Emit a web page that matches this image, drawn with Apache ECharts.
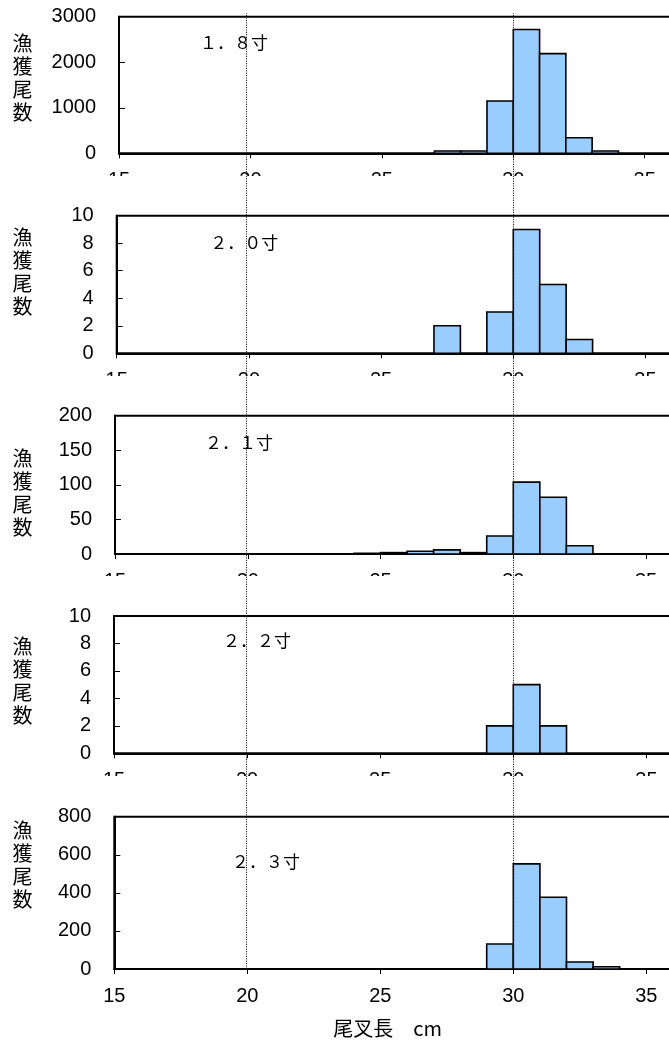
<!DOCTYPE html>
<html>
<head>
<meta charset="utf-8">
<script src="https://cdn.jsdelivr.net/npm/echarts@6/dist/echarts.min.js"></script>
<style>
  html, body { margin: 0; padding: 0; background: #fff; overflow: hidden; width: 669px; height: 1043px; }
  .panel { position: absolute; left: 0; width: 680px; overflow: hidden; }
  #overlay { position: absolute; left: 0; top: 0; width: 680px; height: 1043px; pointer-events: none; }
</style>
</head>
<body>
<div id="p0" class="panel"></div>
<div id="p1" class="panel"></div>
<div id="p2" class="panel"></div>
<div id="p3" class="panel"></div>
<div id="p4" class="panel"></div>
<div id="overlay"></div>
<script>
// ---------- data ----------
const binStarts = [24, 25, 26, 27, 28, 29, 30, 31, 32, 33];   // 尾叉長 bin lower edge (cm), bin width 1 cm
const binWidth = 1;
const count18 = [0, 0, 0, 50, 50, 1150, 2720, 2190, 340, 50];   // 1.8寸
const count20 = [0, 0, 0, 2, 0, 3, 9, 5, 1, 0];                  // 2.0寸
const count21 = [1, 2, 4, 6, 2, 26, 104, 82, 12, 0];             // 2.1寸
const count22 = [0, 0, 0, 0, 0, 2, 5, 2, 0, 0];                  // 2.2寸
const count23 = [0, 0, 0, 0, 0, 131, 552, 377, 37, 12];          // 2.3寸
const panelNames = ['１．８寸', '２．０寸', '２．１寸', '２．２寸', '２．３寸'];
const panelCounts = [count18, count20, count21, count22, count23];
const yMaxes = [3000, 10, 200, 10, 800];
const yIntervals = [1000, 2, 50, 2, 200];
const xMin = 15, xMax = 36, xInterval = 5;
const refLines = [19.95, 30];
const yName = '漁\n獲\n尾\n数';
const xName = '尾叉長　cm';

// ---------- layout (pixels) ----------
const W = 680;
const layout = [
  { top: 0,   height: 176, gTop: 16.7, gBottom: 22.7, left: 119,   plotW: 552.0, ny: 78,    tx: 200,   ty: 42.5 },
  { top: 176, height: 200, gTop: 39.7, gBottom: 22.7, left: 116.7, plotW: 555.2, ny: 95.5,  tx: 210.3, ty: 66.5 },
  { top: 376, height: 200, gTop: 39.7, gBottom: 22.0, left: 115,   plotW: 557.6, ny: 117,   tx: 205,   ty: 67 },
  { top: 576, height: 200, gTop: 40,   gBottom: 22.7, left: 114,   plotW: 559.0, ny: 104.7, tx: 223,   ty: 65 },
  { top: 776, height: 267, gTop: 40.7, gBottom: 74,   left: 114.3, plotW: 558.6, ny: 89,    tx: 232,   ty: 86 }
];

const numFont = "Liberation Sans, Arial, sans-serif";
const cjkFont = "Noto Sans CJK JP, sans-serif";

function renderBar(params, api) {
  const x0 = api.value(0);
  const y = api.value(1);
  const p0 = api.coord([x0, 0]);
  const p1 = api.coord([x0 + binWidth, y]);
  return {
    type: 'rect',
    shape: { x: p0[0], y: p1[1], width: p1[0] - p0[0], height: p0[1] - p1[1] },
    style: { fill: '#99CCFF', stroke: '#000', lineWidth: 1.6 }
  };
}

layout.forEach((L, i) => {
  const el = document.getElementById('p' + i);
  el.style.top = L.top + 'px';
  el.style.height = L.height + 'px';
  const chart = echarts.init(el, null, { renderer: 'canvas' });
  const data = [];
  binStarts.forEach((b, k) => { if (panelCounts[i][k] > 0) data.push([b, panelCounts[i][k]]); });
  const isLast = i === layout.length - 1;
  chart.setOption({
    animation: false,
    backgroundColor: 'transparent',
    grid: {
      left: L.left, right: W - L.left - L.plotW, top: L.gTop, bottom: L.gBottom,
      containLabel: false, outerBoundsMode: 'none',
      show: true, borderColor: '#000', borderWidth: 2, backgroundColor: 'transparent'
    },
    xAxis: {
      type: 'value', min: xMin, max: xMax, interval: xInterval,
      axisLine: { show: true, onZero: false, lineStyle: { color: '#000', width: 2 } },
      axisTick: { show: true, inside: false, length: 5, lineStyle: { color: '#000', width: 1 } },
      axisLabel: { margin: 17, color: '#000', fontSize: 20, fontFamily: numFont, showMaxLabel: false,
                   formatter: v => String(v) },
      splitLine: { show: false },
      name: isLast ? xName : '',
      nameLocation: 'middle',
      nameGap: 49,
      nameTextStyle: { fontFamily: cjkFont, fontSize: 20, color: '#000', padding: [0, 12, 0, 0] }
    },
    yAxis: {
      type: 'value', min: 0, max: yMaxes[i], interval: yIntervals[i],
      axisLine: { show: true, lineStyle: { color: '#000', width: 2 } },
      axisTick: { show: true, inside: true, length: 6, lineStyle: { color: '#000', width: 1 } },
      axisLabel: { margin: 23, color: '#000', fontSize: 20, fontFamily: numFont, formatter: v => String(v) },
      splitLine: { show: false }
    },
    graphic: [{
      type: 'text', x: 32.5, y: L.ny, z: 10,
      style: { text: yName, fontFamily: cjkFont, fontSize: 20, lineHeight: 23, fill: '#000',
               align: 'right', verticalAlign: 'middle' }
    }, {
      type: 'text', x: L.tx, y: L.ty, z: 10,
      style: { text: panelNames[i], fontFamily: cjkFont, fontSize: 17, fill: '#000', align: 'left', verticalAlign: 'middle' }
    }],
    series: [{
      type: 'custom',
      renderItem: renderBar,
      encode: { x: 0, y: 1 },
      data: data,
      clip: false
    }]
  });
});

// overlay with the dotted reference lines across all panels
const ov = echarts.init(document.getElementById('overlay'), null, { renderer: 'canvas' });
ov.setOption({
  animation: false,
  backgroundColor: 'transparent',
  grid: { left: 114.3, right: W - 114.3 - 558.6, top: 13, bottom: 74, show: false,
          containLabel: false, outerBoundsMode: 'none' },
  xAxis: { type: 'value', min: xMin, max: xMax, show: false },
  yAxis: { type: 'value', min: 0, max: 1, show: false },
  series: [{
    type: 'line',
    data: [],
    symbol: 'none',
    markLine: {
      silent: true,
      symbol: ['none', 'none'],
      label: { show: false },
      lineStyle: { type: [1.2, 1.2], color: '#222', width: 1 },
      data: refLines.map(v => ({ xAxis: v }))
    }
  }]
});
</script>
</body>
</html>
